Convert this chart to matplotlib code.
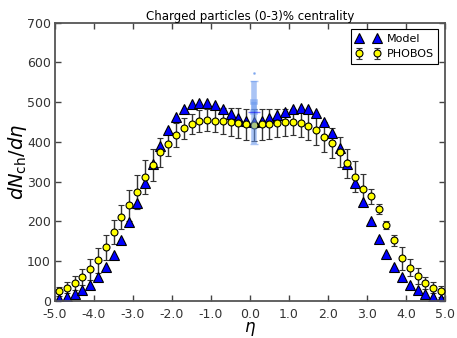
import matplotlib
matplotlib.use("Agg")
import matplotlib.pyplot as plt
import numpy as np

# pseudorapidity bins (bin centres)
eta = np.arange(-4.9, 5.0, 0.2)

# model dN/deta
model = [6, 10, 18, 27, 40, 60, 85, 116, 154, 198,
         246, 296, 345, 391, 431, 463, 483, 495, 499, 497,
         492, 482, 470, 461, 454, 451, 453, 460, 468, 476,
         483, 486, 484, 472, 450, 423, 386, 345, 297, 249,
         200, 156, 118, 86, 61, 40, 28, 18, 9, 5]

# PHOBOS data with errors
phobos = [24, 33, 45, 60, 80, 102, 135, 173, 211, 241,
          275, 312, 342, 374, 396, 417, 434, 445, 453, 455,
          454, 453, 451, 447, 444, 443, 444, 446, 448, 449,
          450, 447, 441, 431, 413, 397, 374, 346, 313, 281,
          263, 231, 191, 153, 108, 84, 62, 45, 33, 24]
phobos_err = [12, 14, 17, 21, 26, 32, 32, 30, 30, 39,
              43, 42, 41, 36, 32, 30, 27, 26, 27, 28,
              30, 32, 35, 38, 40, 40, 40, 38, 36, 34,
              32, 34, 36, 38, 38, 38, 38, 37, 38, 38,
              18, 12, 11, 14, 29, 22, 20, 15, 14, 13]

# normalisation uncertainty drawn at mid-rapidity
sys_eta = 0.1
sys_val = 475
sys_lo, sys_hi = 80, 78
sys_inner = 25

plt.rcParams['font.family'] = 'DejaVu Sans'
plt.rcParams['mathtext.fontset'] = 'dejavusans'

fig = plt.figure(figsize=(4.57, 3.38), dpi=100)
ax = fig.add_axes([0.1204, 0.1095, 0.8533, 0.8233])

ax.plot(eta, model, '^', color='blue', mec='black', mew=0.8, ms=6.8,
        zorder=2, label='Model')

eb = ax.errorbar(eta, phobos, yerr=phobos_err, fmt='o', color='yellow',
                 mec='black', mew=0.8, ms=5, ecolor='#333333', elinewidth=1,
                 capsize=2.2, capthick=1, zorder=3, label='PHOBOS')
for ln in eb[2]:
    ln.set_zorder(1)
for cp in eb[1]:
    cp.set_zorder(1)

# systematic band
ax.errorbar([sys_eta], [sys_val], yerr=[[sys_lo], [sys_hi]], fmt='_',
            color='blue', ecolor='cornflowerblue', elinewidth=4, capsize=3,
            capthick=4, ms=8, mew=1, alpha=0.55, zorder=4)
ax.errorbar([sys_eta], [sys_val], yerr=[[0], [sys_inner]], fmt='none',
            ecolor='cornflowerblue', elinewidth=4, capsize=3, capthick=4,
            alpha=0.45, zorder=4)
ax.plot([sys_eta], [sys_val + 98], '.', color='cornflowerblue', ms=2,
        alpha=0.6, zorder=4)

ax.set_xlim(-5, 5)
ax.set_ylim(0, 700)
ax.set_xticks(np.arange(-5, 5.1, 1))
ax.set_xticklabels(['%.1f' % v for v in np.arange(-5, 5.1, 1)])
ax.set_yticks(np.arange(0, 701, 100))

ax.tick_params(direction='in', top=True, right=True, length=4, width=1,
               labelsize=9, colors='#444444', labelcolor='#333333')
ax.tick_params(axis='x', pad=5)
ax.tick_params(axis='y', pad=3)
for sp in ax.spines.values():
    sp.set_color('#555555')
    sp.set_linewidth(1.3)

ax.set_xlabel(r'$\eta$', fontsize=12)
ax.set_ylabel(r'$dN_{\rm ch}/d\eta$', fontsize=14)
ax.xaxis.set_label_coords(0.5, -0.068)
ax.yaxis.set_label_coords(-0.068, 0.5)
ax.set_title('Charged particles (0-3)% centrality', fontsize=8.5, pad=2)

leg = ax.legend(loc='upper right', numpoints=2, fontsize=8, fancybox=False,
                edgecolor='black', framealpha=1, borderpad=0.4,
                handlelength=2.2, handletextpad=0.6, borderaxespad=0.6)
leg.get_frame().set_linewidth(0.8)

fig.savefig('out.png', dpi=100)
